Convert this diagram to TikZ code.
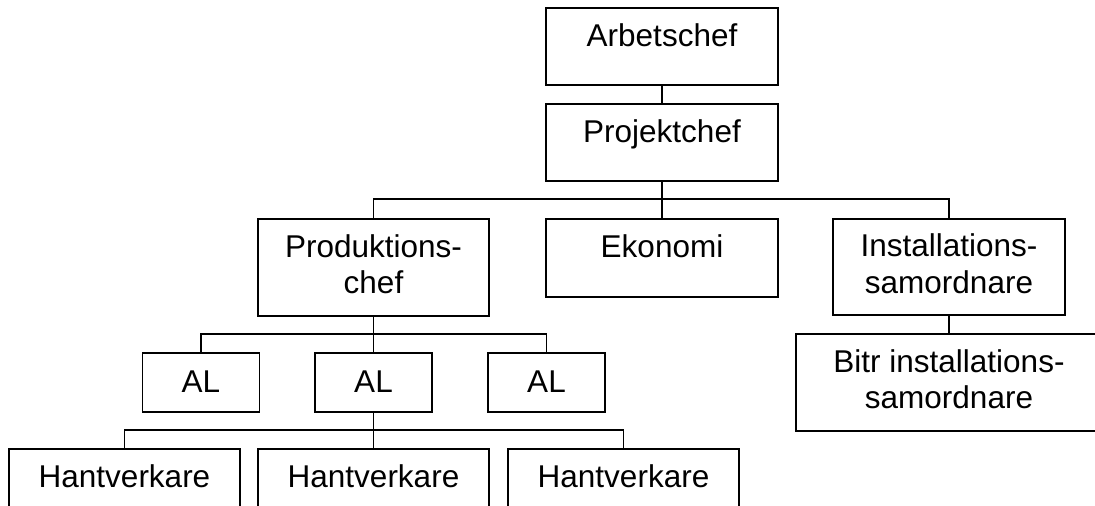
\documentclass[tikz,border=0pt]{standalone}
\usepackage{fontspec}
\setmainfont{Liberation Sans}
\begin{document}
\begin{tikzpicture}[x=1pt,y=-1pt,
  box/.style={draw, rectangle, line width=1.7pt, inner sep=0pt, outer sep=0pt, anchor=north west},
  lbl/.style={anchor=base, inner sep=0pt, font=\fontsize{31.5}{37}\selectfont},
  wire/.style={line width=1.7pt}]
\path[use as bounding box] (0,0) rectangle (1095,506);
\clip (0,0) rectangle (1095,506);
\fill[white] (0,0) rectangle (1095,506);

% top of the chart
\node[box, minimum width=232pt, minimum height=77pt] (arb)  at (546,8)   {};
\node[box, minimum width=232pt, minimum height=77pt] (proj) at (546,104) {};

% second level
\node[box, minimum width=231pt, minimum height=97pt] (prod) at (258,219) {};
\node[box, minimum width=232pt, minimum height=78pt] (ekon) at (546,219) {};
\node[box, minimum width=232pt, minimum height=96pt] (inst) at (833,219) {};
\node[box, minimum width=306pt, minimum height=97pt] (bitr) at (796,334) {};

% work supervisors
\node[box, minimum width=117pt, minimum height=59pt] (al1) at (142.5,353) {};
\node[box, minimum width=117pt, minimum height=59pt] (al2) at (315,353)   {};
\node[box, minimum width=117pt, minimum height=59pt] (al3) at (488,353)   {};

% craftsmen
\node[box, minimum width=231pt, minimum height=91pt] (hv1) at (9,449)   {};
\node[box, minimum width=231pt, minimum height=91pt] (hv2) at (258,449) {};
\node[box, minimum width=231pt, minimum height=91pt] (hv3) at (508,449) {};

% texts
\node[lbl] at ([yshift=-38.5pt]arb.north)  {Arbetschef};
\node[lbl] at ([yshift=-38.5pt]proj.north) {Projektchef};
\node[lbl] at ([yshift=-38pt]prod.north) {Produktions-};
\node[lbl] at ([yshift=-74.5pt]prod.north) {chef};
\node[lbl] at ([yshift=-38.5pt]ekon.north) {Ekonomi};
\node[lbl] at ([yshift=-37.5pt]inst.north) {Installations-};
\node[lbl] at ([yshift=-74pt]inst.north) {samordnare};
\node[lbl] at ([yshift=-38pt]bitr.north) {Bitr installations-};
\node[lbl] at ([yshift=-74.5pt]bitr.north) {samordnare};
\node[lbl] at ([yshift=-39.5pt]al1.north) {AL};
\node[lbl] at ([yshift=-39.5pt]al2.north) {AL};
\node[lbl] at ([yshift=-39.5pt]al3.north) {AL};
\node[lbl] at ([yshift=-38.5pt]hv1.north) {Hantverkare};
\node[lbl] at ([yshift=-38.5pt]hv2.north) {Hantverkare};
\node[lbl] at ([yshift=-38.5pt]hv3.north) {Hantverkare};

% connectors
\coordinate (busA) at (0,199);
\coordinate (busB) at (0,334);
\coordinate (busC) at (0,430);
\draw[wire] (arb.south) -- (proj.north);
\draw[wire] (proj.south) -- (ekon.north);
\draw[wire] (prod.north) |- (inst.north |- busA) -- (inst.north);
\draw[wire] (inst.south) -- (bitr.north);
\draw[wire] (prod.south) -- (al2.north);
\draw[wire] (al1.north) |- (al3.north |- busB) -- (al3.north);
\draw[wire] (al2.south) -- (hv2.north);
\draw[wire] (hv1.north) |- (hv3.north |- busC) -- (hv3.north);
\end{tikzpicture}
\end{document}
